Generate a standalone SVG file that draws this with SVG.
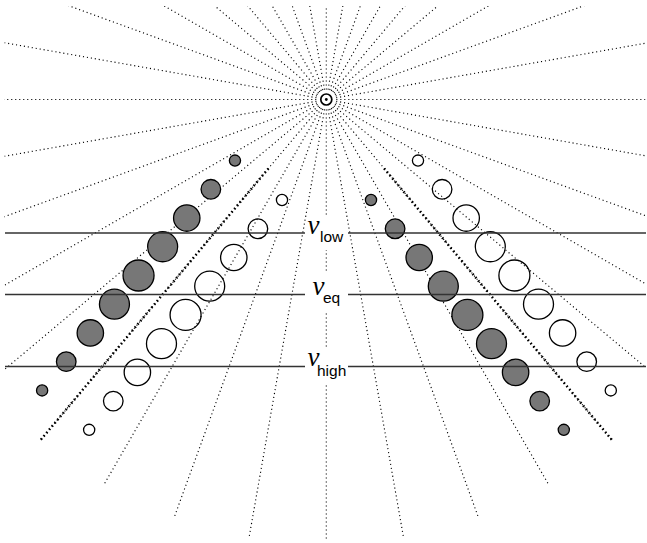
<svg xmlns="http://www.w3.org/2000/svg" xmlns:xlink="http://www.w3.org/1999/xlink" width="647" height="543" viewBox="0 0 647 543">
<style>
.ray{stroke:#000;stroke-width:1.15;stroke-dasharray:1.1 2.9;fill:none}
.heavy{stroke:#000;stroke-width:2.5;stroke-dasharray:1.5 2.8;fill:none}
.f{fill:#777;stroke:#000;stroke-width:1.3}
.h{fill:none;stroke:#000;stroke-width:1.3}
.lvl{stroke:#333;stroke-width:1.3}
.v{font-family:"Liberation Serif",serif;font-style:italic;font-size:27px}
.s{font-family:"Liberation Sans",Arial,sans-serif;font-size:15.5px}
</style>
<defs>
<clipPath id="clip"><rect x="4.5" y="6" width="641" height="534.5"/></clipPath>
<line id="r" class="ray" x1="336.3" y1="99.5" x2="771.3" y2="99.5"/>
<line id="hv" class="heavy" x1="416.3" y1="99.5" x2="771.3" y2="99.5"/>
</defs>
<rect width="647" height="543" fill="#fff"/>
<g id="rays" clip-path="url(#clip)">
<use xlink:href="#r" href="#r" transform="rotate(0 326.3 99.5)"/>
<use xlink:href="#r" href="#r" transform="rotate(10 326.3 99.5)"/>
<use xlink:href="#r" href="#r" transform="rotate(20 326.3 99.5)"/>
<use xlink:href="#r" href="#r" transform="rotate(30 326.3 99.5)"/>
<use xlink:href="#r" href="#r" transform="rotate(40 326.3 99.5)"/>
<use xlink:href="#r" href="#r" transform="rotate(50 326.3 99.5)"/>
<use xlink:href="#r" href="#r" transform="rotate(60 326.3 99.5)"/>
<use xlink:href="#r" href="#r" transform="rotate(70 326.3 99.5)"/>
<use xlink:href="#r" href="#r" transform="rotate(80 326.3 99.5)"/>
<use xlink:href="#r" href="#r" transform="rotate(90 326.3 99.5)"/>
<use xlink:href="#r" href="#r" transform="rotate(100 326.3 99.5)"/>
<use xlink:href="#r" href="#r" transform="rotate(110 326.3 99.5)"/>
<use xlink:href="#r" href="#r" transform="rotate(120 326.3 99.5)"/>
<use xlink:href="#r" href="#r" transform="rotate(130 326.3 99.5)"/>
<use xlink:href="#r" href="#r" transform="rotate(140 326.3 99.5)"/>
<use xlink:href="#r" href="#r" transform="rotate(150 326.3 99.5)"/>
<use xlink:href="#r" href="#r" transform="rotate(160 326.3 99.5)"/>
<use xlink:href="#r" href="#r" transform="rotate(170 326.3 99.5)"/>
<use xlink:href="#r" href="#r" transform="rotate(180 326.3 99.5)"/>
<use xlink:href="#r" href="#r" transform="rotate(190 326.3 99.5)"/>
<use xlink:href="#r" href="#r" transform="rotate(200 326.3 99.5)"/>
<use xlink:href="#r" href="#r" transform="rotate(210 326.3 99.5)"/>
<use xlink:href="#r" href="#r" transform="rotate(220 326.3 99.5)"/>
<use xlink:href="#r" href="#r" transform="rotate(230 326.3 99.5)"/>
<use xlink:href="#r" href="#r" transform="rotate(240 326.3 99.5)"/>
<use xlink:href="#r" href="#r" transform="rotate(250 326.3 99.5)"/>
<use xlink:href="#r" href="#r" transform="rotate(260 326.3 99.5)"/>
<use xlink:href="#r" href="#r" transform="rotate(270 326.3 99.5)"/>
<use xlink:href="#r" href="#r" transform="rotate(280 326.3 99.5)"/>
<use xlink:href="#r" href="#r" transform="rotate(290 326.3 99.5)"/>
<use xlink:href="#r" href="#r" transform="rotate(300 326.3 99.5)"/>
<use xlink:href="#r" href="#r" transform="rotate(310 326.3 99.5)"/>
<use xlink:href="#r" href="#r" transform="rotate(320 326.3 99.5)"/>
<use xlink:href="#r" href="#r" transform="rotate(330 326.3 99.5)"/>
<use xlink:href="#r" href="#r" transform="rotate(340 326.3 99.5)"/>
<use xlink:href="#r" href="#r" transform="rotate(350 326.3 99.5)"/>
<use xlink:href="#hv" href="#hv" transform="rotate(50 326.3 99.5)"/>
<use xlink:href="#hv" href="#hv" transform="rotate(130 326.3 99.5)"/>
</g>
<g id="source">
<circle cx="326.3" cy="99.5" r="5.5" fill="none" stroke="#000" stroke-width="1.7"/>
<circle cx="326.3" cy="99.5" r="1.4" fill="#000"/>
</g>
<g id="left-filled">
<circle class="f" cx="234.96" cy="160.58" r="5.6"/>
<circle class="f" cx="210.86" cy="189.31" r="9.8"/>
<circle class="f" cx="186.76" cy="218.03" r="13.2"/>
<circle class="f" cx="162.65" cy="246.76" r="15"/>
<circle class="f" cx="138.54" cy="275.48" r="15.5"/>
<circle class="f" cx="114.44" cy="304.21" r="15"/>
<circle class="f" cx="90.33" cy="332.93" r="13.2"/>
<circle class="f" cx="66.23" cy="361.66" r="9.8"/>
<circle class="f" cx="42.12" cy="390.38" r="5.6"/>
</g>
<g id="left-hollow">
<circle class="h" cx="282.0" cy="200.04" r="5.6"/>
<circle class="h" cx="257.9" cy="228.77" r="9.8"/>
<circle class="h" cx="233.8" cy="257.49" r="13.2"/>
<circle class="h" cx="209.69" cy="286.22" r="15"/>
<circle class="h" cx="185.58" cy="314.94" r="15.5"/>
<circle class="h" cx="161.48" cy="343.67" r="15"/>
<circle class="h" cx="137.37" cy="372.39" r="13.2"/>
<circle class="h" cx="113.27" cy="401.12" r="9.8"/>
<circle class="h" cx="89.16" cy="429.84" r="5.6"/>
</g>
<g id="right-hollow">
<circle class="h" cx="418.0" cy="160.58" r="5.6"/>
<circle class="h" cx="442.1" cy="189.31" r="9.8"/>
<circle class="h" cx="466.2" cy="218.03" r="13.2"/>
<circle class="h" cx="490.3" cy="246.76" r="15"/>
<circle class="h" cx="514.4" cy="275.48" r="15.5"/>
<circle class="h" cx="538.5" cy="304.21" r="15"/>
<circle class="h" cx="562.6" cy="332.93" r="13.2"/>
<circle class="h" cx="586.7" cy="361.66" r="9.8"/>
<circle class="h" cx="610.8" cy="390.38" r="5.6"/>
</g>
<g id="right-filled">
<circle class="f" cx="371.0" cy="200.04" r="5.6"/>
<circle class="f" cx="395.1" cy="228.77" r="9.8"/>
<circle class="f" cx="419.2" cy="257.49" r="13.2"/>
<circle class="f" cx="443.3" cy="286.22" r="15"/>
<circle class="f" cx="467.4" cy="314.94" r="15.5"/>
<circle class="f" cx="491.5" cy="343.67" r="15"/>
<circle class="f" cx="515.6" cy="372.39" r="13.2"/>
<circle class="f" cx="539.7" cy="401.12" r="9.8"/>
<circle class="f" cx="563.8" cy="429.84" r="5.6"/>
</g>
<g id="levels">
<line class="lvl" x1="5" y1="233" x2="305" y2="233"/>
<line class="lvl" x1="348" y1="233" x2="646" y2="233"/>
<line class="lvl" x1="5" y1="294.5" x2="305" y2="294.5"/>
<line class="lvl" x1="348" y1="294.5" x2="646" y2="294.5"/>
<line class="lvl" x1="5" y1="366.5" x2="305" y2="366.5"/>
<line class="lvl" x1="348" y1="366.5" x2="646" y2="366.5"/>
</g>
<g id="label-low">
<rect x="306" y="217" width="41" height="33" fill="#fff"/>
<text class="v" x="307.5" y="234">v</text><text class="s" x="320" y="242">low</text>
</g>
<g id="label-eq">
<rect x="306" y="273" width="41" height="39" fill="#fff"/>
<text class="v" x="312.5" y="295">v</text><text class="s" x="323" y="303">eq</text>
</g>
<g id="label-high">
<rect x="306" y="347" width="41" height="38" fill="#fff"/>
<text class="v" x="307.5" y="366">v</text><text class="s" x="317" y="375.5">high</text>
</g>
</svg>
